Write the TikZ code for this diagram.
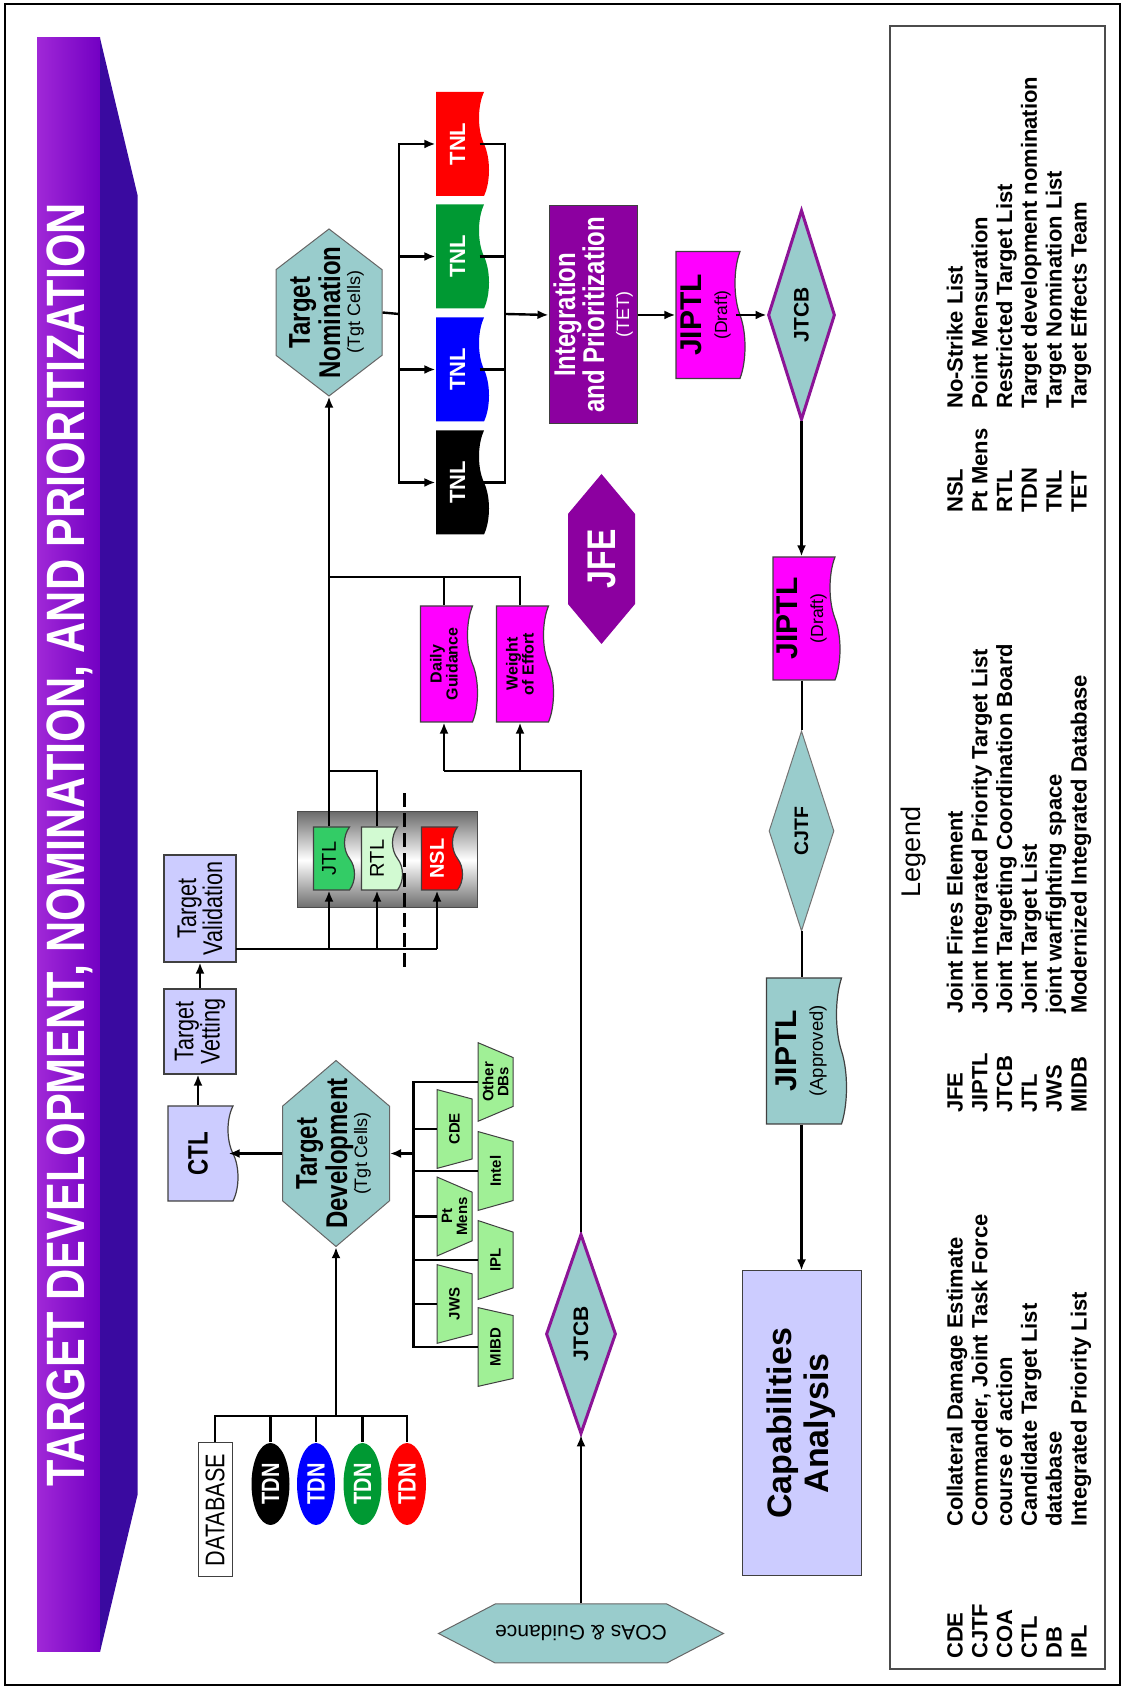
\documentclass[tikz,border=0pt]{standalone}
\usepackage{fontspec}
\setmainfont{Liberation Sans}
\newfontfamily\narrowfont[FakeStretch=0.8]{Liberation Sans}
\usetikzlibrary{shapes.geometric}
\usetikzlibrary{shapes.symbols}
\usetikzlibrary{arrows.meta}

\definecolor{tealfill}{RGB}{153,204,204}
\definecolor{lavfill}{RGB}{204,204,255}
\definecolor{plum}{RGB}{140,0,160}
\definecolor{jtcbline}{RGB}{140,20,150}
\definecolor{titlelight}{RGB}{160,40,215}
\definecolor{titledark}{RGB}{115,0,195}
\definecolor{titleside}{RGB}{58,10,160}
\definecolor{srcgreen}{RGB}{160,240,150}
\definecolor{jtlgreen}{RGB}{51,204,102}
\definecolor{rtlgreen}{RGB}{210,250,210}
\definecolor{listgreen}{RGB}{0,153,51}
\definecolor{magfill}{RGB}{255,0,255}

\newcommand{\fz}[2]{\fontsize{#1}{#2}\selectfont}
\newcommand{\hextext}[1]{\makebox[0pt]{\begin{tabular}{@{}c@{}}#1\end{tabular}}}

\begin{document}
\begin{tikzpicture}[x=1pt, y=1pt, rotate=90, transform shape, line width=2.4pt,
    conn/.style={-{Latex[length=11pt,width=9pt]}},
    plainbox/.style={rectangle, draw=black!75, line width=1.2pt, inner sep=0pt, align=center},
    hexa/.style={signal, signal to=east and west, draw=black!60, line width=1pt, fill=tealfill, inner sep=0pt, align=center},
    doc/.style={tape, tape bend top=none, tape bend bottom=in and out, tape bend height=10pt, draw=black!75, line width=1.2pt, inner sep=0pt, align=center},
    dia/.style={diamond, aspect=3, draw=black!55, line width=1pt, fill=tealfill, inner sep=0pt, font=\bfseries\fz{21}{21}},
    board/.style={dia, draw=jtcbline, line width=3pt},
    src/.style={trapezium, trapezium stretches=true, shape border rotate=180, trapezium angle=65, minimum width=79pt, minimum height=35pt, draw=black!75, line width=1pt, fill=srcgreen, inner sep=0pt, align=center, font=\bfseries\fz{15}{15}},
    tdn/.style={ellipse, minimum width=82pt, minimum height=38pt, inner sep=0pt, text=white, font=\narrowfont\bfseries\fz{25}{25}},
    tnl/.style={doc, draw=none, minimum width=104pt, minimum height=53pt, text=white, font=\bfseries\fz{22}{22}},
    leg/.style={anchor=base west, inner sep=0pt, font=\bfseries\fz{22}{22}}]

\useasboundingbox (0,0) rectangle (1688,-1124);
\draw[line width=1.5pt] (3,-5) rectangle (1684,-1120);

% title bar
\shade[left color=titlelight, right color=titledark] (36,-37) rectangle (1650,-100);
\fill[titleside] (36,-100) -- (1650,-100) -- (1493,-137.5) -- (193,-137.5) -- cycle;
\node[text=white, font=\narrowfont\bfseries\fz{54}{54}] (title) at (843,-70) {TARGET DEVELOPMENT, NOMINATION, AND PRIORITIZATION};

% target development
\node[plainbox, fill=white, line width=1pt, minimum width=134pt, minimum height=34pt, font=\narrowfont\fz{27}{27}] (db) at (178,-215) {DATABASE};
\foreach \c/\y [count=\i] in {black/270.5, blue/316, listgreen/362.5, red/407}
    \node[tdn, fill=\c] (tdn\i) at (204,-\y) {TDN};

\node[hexa, minimum width=186pt, minimum height=107pt, signal pointer angle=99, font=\narrowfont\bfseries\fz{30}{29}] (tdev) at (534.5,-336)
    {\hextext{Target\\Development\\[-9pt]{\normalfont\fz{18}{18}(Tgt Cells)}}};

\node[src] (cde) at (559,-454.5) {CDE};
\node[src] (ptm) at (471.5,-454.5) {Pt\\Mens};
\node[src] (jws) at (384,-454.5) {JWS};
\node[src] (oth) at (606,-495.5) {Other\\DBs};
\node[src] (intel) at (517,-495.5) {Intel};
\node[src] (ipl) at (428,-495.5) {IPL};
\node[src] (mibd) at (341,-495.5) {MIBD};

\node[doc, fill=lavfill, minimum width=95pt, minimum height=70pt, font=\narrowfont\bfseries\fz{28}{28}] (ctl) at (534.5,-198) {CTL};
\node[plainbox, fill=lavfill, minimum width=85pt, minimum height=72pt, font=\narrowfont\fz{27}{25}] (vet) at (656.5,-200) {Target\\Vetting};
\node[plainbox, fill=lavfill, minimum width=107pt, minimum height=72pt, font=\narrowfont\fz{27}{25}] (val) at (779.5,-200) {Target\\Validation};

% lists
\shade[top color=gray!85!black, bottom color=gray!85!black, middle color=white, draw=black!70, line width=1pt] (780,-297.5) rectangle (876,-477);
\node[doc, fill=jtlgreen, minimum width=63pt, minimum height=41pt, font=\fz{20}{20}] (jtl) at (829.5,-329) {JTL};
\node[doc, fill=rtlgreen, minimum width=63pt, minimum height=41pt, font=\fz{20}{20}] (rtl) at (829.5,-377) {RTL};
\node[doc, fill=red, minimum width=63pt, minimum height=41pt, text=white, font=\bfseries\fz{20}{20}] (nsl) at (829.5,-437) {NSL};
\coordinate (cutbot) at (721,-404);
\coordinate (cuttop) at (899,-404);
\draw[line width=3pt, dash pattern=on 14pt off 6pt] (cutbot) -- (cuttop);

\node[doc, fill=magfill, minimum width=116pt, minimum height=57pt, font=\bfseries\fz{16}{16}] (daily) at (1024,-444) {Daily\\Guidance};
\node[doc, fill=magfill, minimum width=116pt, minimum height=57pt, font=\bfseries\fz{16}{16}] (weight) at (1024,-520) {Weight\\of Effort};

\node[hexa, rotate=90, minimum width=237pt, minimum height=59pt, signal pointer angle=55, font=\fz{21}{21}] (coas) at (54.5,-581) {COAs \& Guidance};
\node[board, minimum width=200pt, minimum height=70pt] (jtcb2) at (354,-581) {JTCB};

% nomination
\node[hexa, minimum width=167pt, minimum height=106pt, signal pointer angle=105, font=\narrowfont\bfseries\fz{30}{29}] (tnom) at (1375.5,-329)
    {\hextext{Target\\Nomination\\[-9pt]{\normalfont\fz{18}{18}(Tgt Cells)}}};
\foreach \c/\x [count=\i] in {red/1544, listgreen/1431.5, blue/1318.5, black/1205.5}
    \node[tnl, fill=\c] (tnl\i) at (\x,-457.5) {TNL};

\node[plainbox, fill=plum, line width=1pt, minimum width=218pt, minimum height=88pt, text=white, font=\narrowfont\bfseries\fz{30}{29}] (integ) at (1373,-593)
    {Integration\\and Prioritization\\[-4pt]{\normalfont\fz{18}{18}(TET)}};
\node[hexa, fill=plum, draw=none, minimum width=170pt, minimum height=67pt, signal pointer angle=80, text=white, font=\narrowfont\bfseries\fz{40}{40}] (jfe) at (1129,-601.5) {JFE};

\node[doc, fill=magfill, minimum width=127pt, minimum height=69pt, font=\bfseries\fz{30}{26}] (jd1) at (1373,-705.5)
    {JIPTL\\{\normalfont\fz{17.5}{17}(Draft)}};
\node[board, minimum width=210pt, minimum height=67pt] (jtcb1) at (1373,-801.5) {JTCB};
\node[doc, fill=magfill, minimum width=123pt, minimum height=67pt, font=\bfseries\fz{30}{26}] (jd2) at (1069.5,-801.5)
    {JIPTL\\{\normalfont\fz{17.5}{17}(Draft)}};
\node[dia, minimum width=200pt, minimum height=65pt, font=\bfseries\fz{19.5}{19.5}] (cjtf) at (857,-801.5) {CJTF};
\node[doc, fill=tealfill, minimum width=146pt, minimum height=80pt, font=\bfseries\fz{30}{26}] (jap) at (637,-801.5)
    {JIPTL\\{\normalfont\fz{18.5}{18}(Approved)}};
\node[plainbox, fill=lavfill, line width=1pt, minimum width=305pt, minimum height=119pt, font=\bfseries\fz{34}{37}] (cap) at (264.5,-801.5) {Capabilities\\Analysis};

% connectors
\coordinate (dbbus) at (272,-336);
\draw (db.east) -| (dbbus);
\foreach \i in {1,...,4}
    \draw (tdn\i.east) -| (dbbus);
\draw[conn] (dbbus) -- (tdev.west);

\coordinate (srcbus) at (534.5,-413.5);
\foreach \n in {cde,ptm,jws,oth,intel,ipl,mibd}
    \draw (\n.90) |- (srcbus);
\draw[conn] (srcbus) -- (tdev.south);

\draw[conn] (tdev.north) -- (ctl.south);
\draw[conn] (ctl.east) -- (ctl.east -| vet.west);
\draw[conn] (vet.east) -- (val.west);

\coordinate (valtap) at (739,-236);
\draw (valtap) -- (valtap |- nsl.west);
\foreach \n in {jtl,rtl,nsl}
    \draw[conn] (valtap |- \n.west) -- (\n.west);

\draw[conn] (jtl.east) -- (tnom.west);
\coordinate (rtljoin) at (917,-329);
\draw (rtl.east) -| (rtljoin);
\coordinate (guidejoin) at (1111,-329);
\draw (daily.east) -| (guidejoin);
\draw (weight.east) -| (guidejoin);

\draw[conn, line width=1.5pt] (coas.south) -- (jtcb2.west);
\coordinate (feed) at (917,-581);
\draw (jtcb2.east) -- (feed) -- (feed |- daily.west);
\draw[conn] (feed |- daily.west) -- (daily.west);
\draw[conn] (feed |- weight.west) -- (weight.west);

\coordinate (tnlin) at (1374,-399);
\coordinate (tnlout) at (1374,-505);
\draw (tnom.south) -- (tnlin);
\foreach \i in {1,...,4} {
    \draw[conn] (tnlin) -| (tnl\i.north);
    \draw (tnl\i.south) |- (tnlout);
}
\draw[conn] (tnlout) -- (integ.north);
\draw[conn] (integ.south) -- (jd1.north);
\draw[conn] (jd1.south) -- (jtcb1.north);
\draw[conn] (jtcb1.west) -- (jd2.east);
\draw[line width=2pt] (jd2.west) -- (cjtf.east);
\draw[line width=2pt] (cjtf.west) -- (jap.east);
\draw[conn] (jap.west) -- (cap.east);

% legend
\draw[line width=1.2pt, draw=black!70] (19,-890) rectangle (1662,-1105);
\node[font=\fz{27}{27}] (legtitle) at (836,-914) {Legend};
\foreach \a/\d [count=\i] in {CDE/Collateral Damage Estimate, CJTF/{Commander, Joint Task Force}, COA/course of action, CTL/Candidate Target List, DB/database, IPL/Integrated Priority List} {
    \node[leg] (lka\i) at (28,{-962.5-24.8*(\i-1)}) {\a};
    \node[leg] (lva\i) at (160,{-962.5-24.8*(\i-1)}) {\d};
}
\foreach \a/\d [count=\i] in {JFE/Joint Fires Element, JIPTL/Joint Integrated Priority Target List, JTCB/Joint Targeting Coordination Board, JTL/Joint Target List, JWS/joint warfighting space, MIDB/Modernized Integrated Database} {
    \node[leg] (lkb\i) at (574,{-962.5-24.8*(\i-1)}) {\a};
    \node[leg] (lvb\i) at (673,{-962.5-24.8*(\i-1)}) {\d};
}
\foreach \a/\d [count=\i] in {NSL/No-Strike List, Pt Mens/Point Mensuration, RTL/Restricted Target List, TDN/Target development nomination, TNL/Target Nomination List, TET/Target Effects Team} {
    \node[leg] (lkc\i) at (1174,{-962.5-24.8*(\i-1)}) {\a};
    \node[leg] (lvc\i) at (1278,{-962.5-24.8*(\i-1)}) {\d};
}
\end{tikzpicture}
\end{document}
